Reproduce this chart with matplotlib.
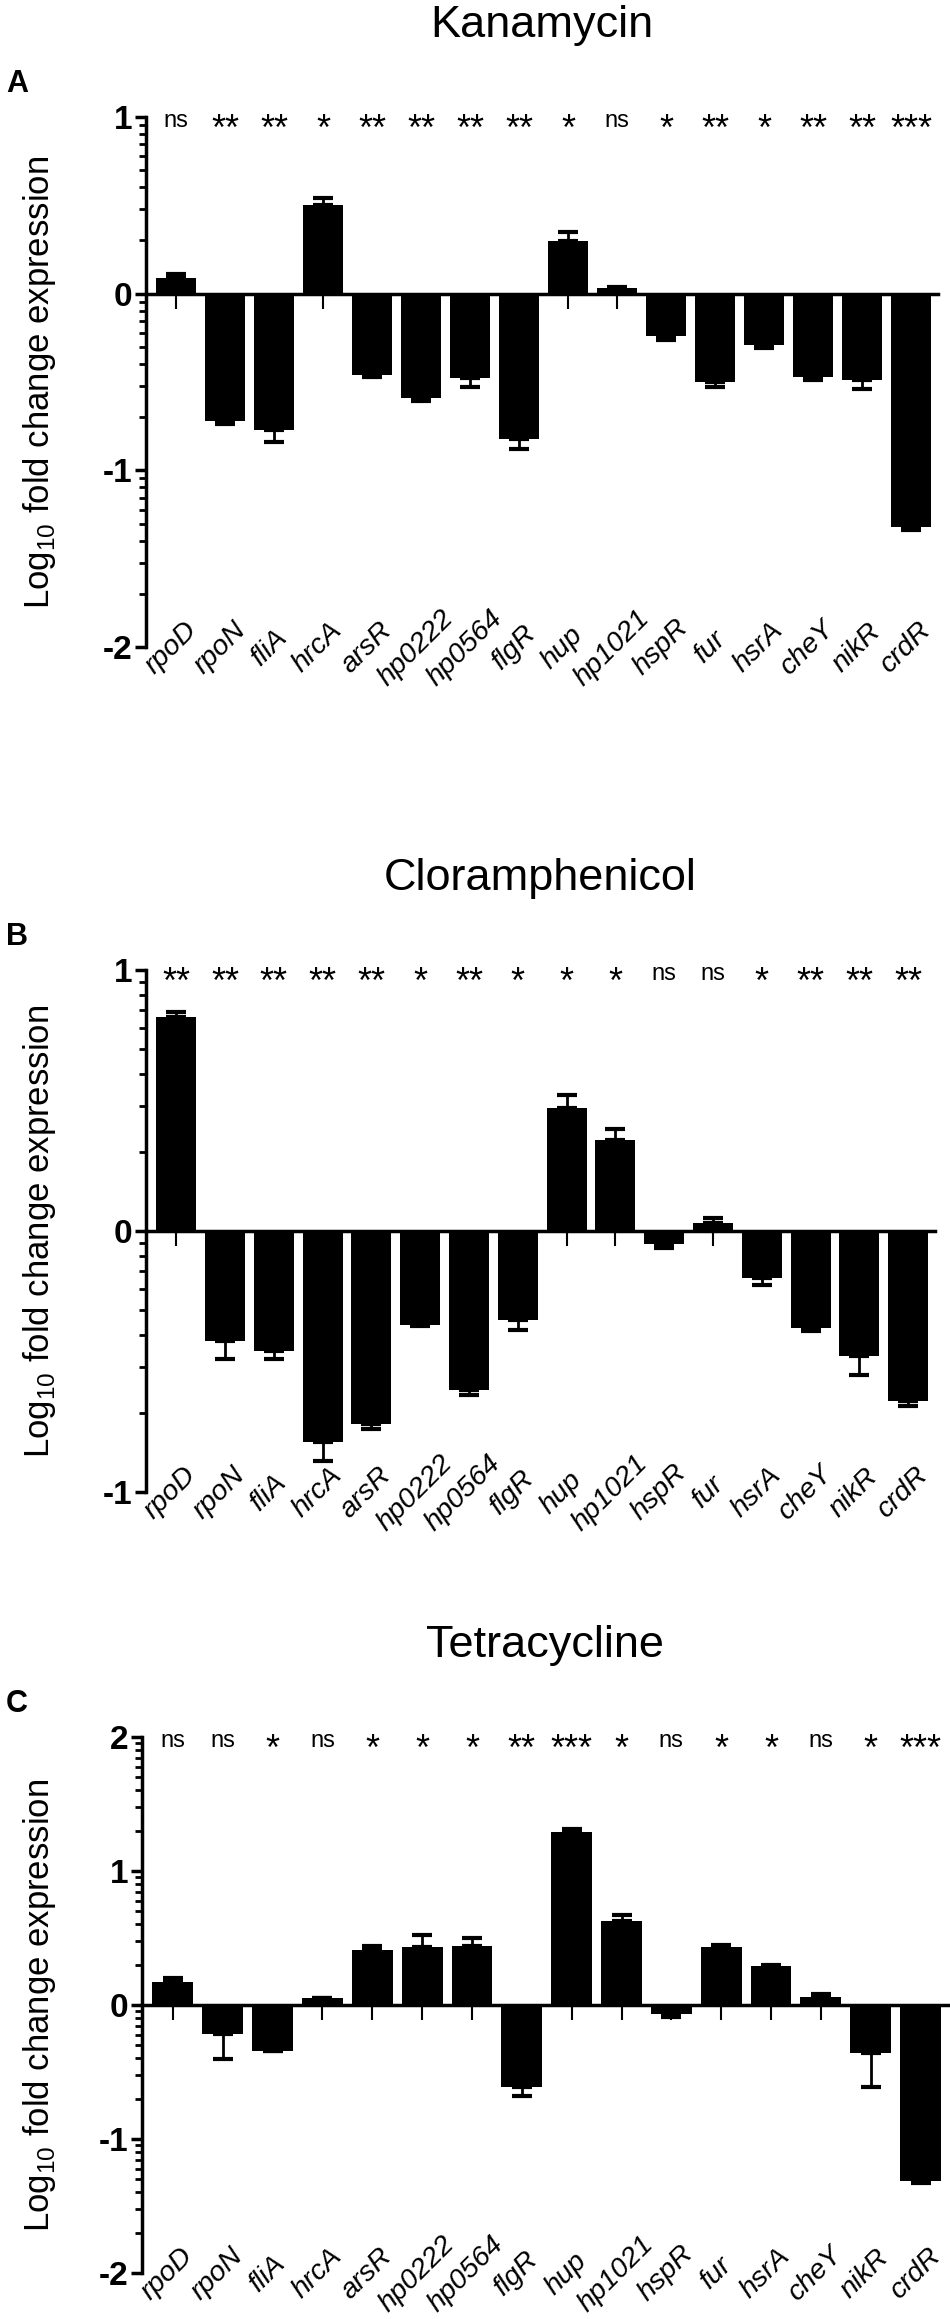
import matplotlib
matplotlib.use('Agg')
import matplotlib.pyplot as plt
import numpy as np

plt.rcParams['font.family'] = ['Liberation Sans', 'DejaVu Sans']
plt.rcParams['mathtext.fontset'] = 'custom'
plt.rcParams['mathtext.rm'] = 'Liberation Sans'

genes = ['rpoD', 'rpoN', 'fliA', 'hrcA', 'arsR', 'hp0222', 'hp0564', 'flgR',
         'hup', 'hp1021', 'hspR', 'fur', 'hsrA', 'cheY', 'nikR', 'crdR']

# Kanamycin
kan_vals = [0.09, -0.72, -0.77, 0.50, -0.46, -0.59, -0.48, -0.82,
            0.30, 0.03, -0.24, -0.50, -0.29, -0.47, -0.49, -1.32]
kan_err = [0.02, 0.015, 0.07, 0.04, 0.01, 0.015, 0.05, 0.06,
           0.05, 0.01, 0.02, 0.03, 0.02, 0.02, 0.05, 0.02]
kan_sig = ['ns', '**', '**', '*', '**', '**', '**', '**',
           '*', 'ns', '*', '**', '*', '**', '**', '***']

# Cloramphenicol
clo_vals = [0.82, -0.42, -0.46, -0.81, -0.74, -0.36, -0.61, -0.34,
            0.47, 0.35, -0.05, 0.03, -0.18, -0.37, -0.48, -0.65]
clo_err = [0.02, 0.07, 0.03, 0.07, 0.02, 0.005, 0.02, 0.04,
           0.05, 0.04, 0.015, 0.02, 0.025, 0.015, 0.07, 0.02]
clo_sig = ['**', '**', '**', '**', '**', '*', '**', '*',
           '*', '*', 'ns', 'ns', '*', '**', '**', '**']

# Tetracycline
tet_vals = [0.17, -0.22, -0.34, 0.05, 0.41, 0.43, 0.44, -0.61,
            1.29, 0.63, -0.07, 0.43, 0.29, 0.06, -0.36, -1.31]
tet_err = [0.03, 0.18, 0.005, 0.005, 0.03, 0.09, 0.06, 0.07,
           0.02, 0.04, 0.02, 0.015, 0.01, 0.02, 0.25, 0.02]
tet_sig = ['ns', 'ns', '*', 'ns', '*', '*', '*', '**',
           '***', '*', 'ns', '*', '*', 'ns', '*', '***']

panels = [
    ('Kanamycin', 'A', kan_vals, kan_err, kan_sig, (-2, 1)),
    ('Cloramphenicol', 'B', clo_vals, clo_err, clo_sig, (-1, 1)),
    ('Tetracycline', 'C', tet_vals, tet_err, tet_sig, (-2, 2)),
]

W, H = 950, 2319
fig = plt.figure(figsize=(W / 100, H / 100), dpi=100)

# axes boxes in pixels: left, top, right, bottom
boxes = [(146, 117, 938, 647), (146, 970, 935, 1492), (142, 1737, 948, 2273)]

x = np.arange(len(genes))
for (title, letter, vals, errs, sig, ylim), (l, t, r, b) in zip(panels, boxes):
    ax = fig.add_axes([l / W, 1 - b / H, (r - l) / W, (b - t) / H])
    vals = np.array(vals)
    errs = np.array(errs)
    ax.bar(x, vals, width=0.82, color='black', zorder=2)
    lo = np.where(vals < 0, errs, 0)
    up = np.where(vals >= 0, errs, 0)
    ax.errorbar(x, vals, yerr=[lo, up], fmt='none', ecolor='black',
                elinewidth=2, capsize=7, capthick=3, zorder=3)

    ax.set_xlim(-0.62, 15.55)
    ax.set_ylim(*ylim)
    for s in ['top', 'right']:
        ax.spines[s].set_visible(False)
    ax.spines['bottom'].set_position(('data', 0))
    ax.spines['bottom'].set_linewidth(2.5)
    ax.spines['left'].set_linewidth(2.5)

    ax.set_xticks(x)
    ax.tick_params(axis='x', direction='out', length=11, width=1.5,
                   labelbottom=False)
    ax.set_yticks(np.arange(ylim[0], ylim[1] + 1))
    minors = [n + np.log10(k) for n in range(ylim[0], ylim[1])
              for k in range(2, 10)]
    ax.set_yticks(minors, minor=True)
    ax.tick_params(axis='y', which='major', direction='out', length=8,
                   width=2.5, labelsize=24, pad=2)
    ax.tick_params(axis='y', which='minor', direction='out', length=5,
                   width=2)
    ax.set_yticklabels(['-%d' % -v if v < 0 else '%d' % v
                        for v in range(ylim[0], ylim[1] + 1)],
                       fontweight='bold')

    # rotated gene names centred just under each bar at the axis bottom
    for i, g in enumerate(genes):
        ax.annotate(g, xy=(i, ylim[0]), xytext=(-4, -0.5),
                    textcoords='offset points', rotation=45,
                    ha='center', va='center',
                    fontsize=20.5, style='italic', annotation_clip=False)
    # significance marks along the top
    for i, s in enumerate(sig):
        if '*' in s:
            ax.annotate(s, xy=(i, ylim[1]), xytext=(0, -16.5),
                        textcoords='offset points', ha='center',
                        va='baseline', fontsize=26, annotation_clip=False)
        else:
            ax.annotate(s, xy=(i, ylim[1]), xytext=(0, -7.5),
                        textcoords='offset points', ha='center',
                        va='baseline', fontsize=17, annotation_clip=False)

    ax.set_title(title, fontsize=32.5, pad=0, y=1 + 80 / (b - t))
    fig.text(6 / W, 1 - (t - 33) / H, letter, fontsize=22,
             fontweight='bold', ha='left', va='center')
    fig.text(40 / W, 1 - (t + b) / 2 / H,
             r'Log$_{10}$ fold change expression', rotation=90,
             fontsize=25, ha='center', va='center')

fig.savefig('out.png', dpi=100)
